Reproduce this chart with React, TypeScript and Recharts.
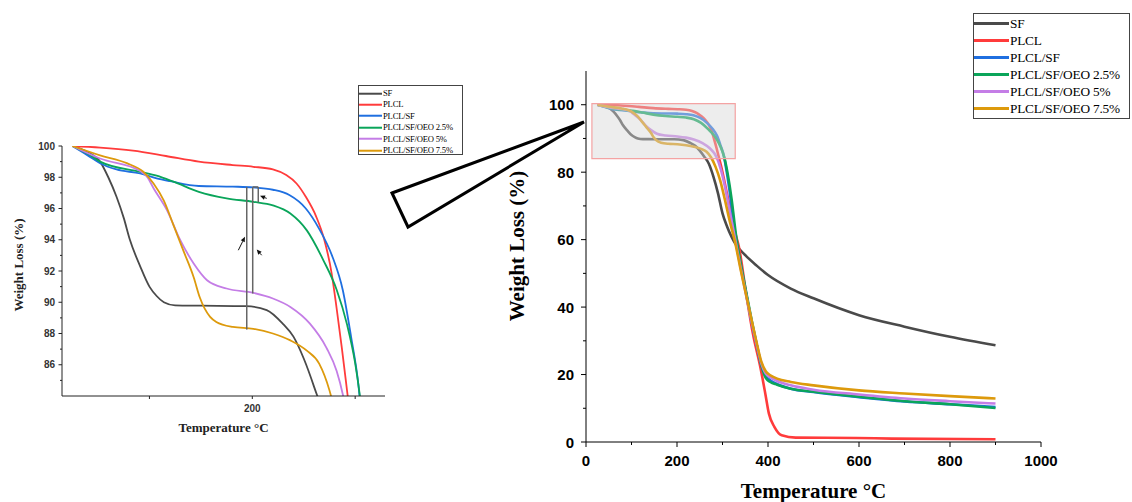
import React from 'react';
import { LineChart, Line, XAxis, YAxis, Legend, ReferenceArea, ReferenceLine } from 'recharts';

// ---- Data: [temperature °C, weight %] ----
const SF: [number, number][] = [
  [25, 100], [40, 99.6], [52, 99.0], [60, 98.0], [68, 96.75], [75, 95.4], [81, 94.0], [91, 92.3],
  [100, 91.0], [107, 90.4], [114, 90.0], [125, 89.8], [150, 89.78], [194, 89.75], [214, 89.5],
  [230, 88.6], [240, 87.8], [250, 86.4], [260, 84.6], [270, 82.5], [280, 78.7], [290, 73.8],
  [300, 67.8], [310, 63.9], [320, 60.8], [330, 58.4], [350, 55.4], [375, 52.3], [400, 49.5],
  [450, 45.5], [500, 42.6], [600, 37.6], [700, 34.2], [800, 31.2], [900, 28.7],
];
const PLCL: [number, number][] = [
  [25, 100], [52, 99.9], [84, 99.7], [116, 99.36], [148, 99.0], [181, 98.78], [201, 98.67],
  [220, 98.5], [233, 98.14], [243, 97.6], [252, 96.75], [262, 95.5], [270, 94.0], [277, 91.9],
  [282, 89.6], [287, 87.1], [292, 84.4], [300, 80], [310, 73.5], [320, 67], [328, 62],
  [336, 57.9], [352, 44], [367, 32], [383, 22.3], [394, 14.4], [402, 8.4], [414, 4.5],
  [430, 2.0], [461, 1.3], [594, 1.2], [672, 1.0], [900, 0.8],
];
const PLCL_SF: [number, number][] = [
  [25, 100], [40, 99.4], [52, 98.9], [68, 98.5], [91, 98.24], [107, 97.93], [120, 97.75],
  [148, 97.44], [181, 97.4], [201, 97.35], [220, 97.2], [236, 96.86], [252, 96.0], [265, 94.7],
  [278, 92.9], [288, 90.77], [296, 87.8], [303, 84.8], [310, 79.5], [318, 72], [328, 61],
  [340, 52], [352, 44], [365, 35], [375, 29], [385, 23], [395, 19.5], [405, 18.3], [420, 17.2],
  [450, 15.8], [500, 14.8], [600, 13.3], [700, 12.0], [800, 11.2], [900, 10.4],
];
const OEO_25: [number, number][] = [
  [25, 100], [40, 99.5], [52, 99.0], [91, 98.35], [107, 98.1], [124, 97.7], [148, 97.07],
  [175, 96.65], [201, 96.43], [220, 96.2], [237, 95.68], [253, 94.6], [269, 92.7], [282, 90.8],
  [292, 88.6], [300, 86.1], [304, 84.3], [312, 79], [320, 72], [330, 61], [340, 53], [352, 44.5],
  [365, 35.5], [375, 29], [385, 23], [395, 19], [405, 17.8], [420, 17.0], [450, 15.8],
  [500, 14.9], [600, 13.4], [700, 12.1], [800, 11.2], [900, 10.1],
];
const OEO_5: [number, number][] = [
  [25, 100], [52, 99.2], [91, 98.4], [98, 98.0], [104, 97.3], [117, 95.9], [130, 93.97],
  [143, 92.48], [156, 91.41], [175, 90.88], [201, 90.6], [220, 90.24], [237, 89.7], [256, 88.63],
  [272, 87.1], [282, 85.6], [288, 84.1], [296, 81], [305, 76], [315, 69], [328, 60], [340, 51.5],
  [352, 43.5], [365, 35], [375, 29], [385, 23.5], [395, 20.3], [405, 19.2], [420, 18.1],
  [450, 16.8], [500, 15.5], [600, 14.1], [700, 12.9], [800, 12.1], [900, 11.4],
];
const OEO_75: [number, number][] = [
  [25, 100], [52, 99.4], [78, 98.9], [94, 98.35], [104, 97.6], [114, 96.5], [123, 95.0],
  [133, 93.3], [143, 91.6], [149, 90.3], [159, 89.06], [165, 88.74], [181, 88.42], [201, 88.3],
  [220, 88.0], [237, 87.56], [253, 86.9], [265, 86.07], [275, 84.36], [285, 81.5], [295, 77.5],
  [305, 72], [315, 66], [328, 59], [340, 51], [352, 43.5], [365, 35.5], [375, 29.5], [385, 24],
  [395, 21], [405, 19.8], [420, 18.8], [450, 17.8], [500, 16.8], [600, 15.3], [700, 14.4],
  [800, 13.6], [900, 12.9],
];

const SERIES_NAMES = ['SF', 'PLCL', 'PLCL/SF', 'PLCL/SF/OEO 2.5%', 'PLCL/SF/OEO 5%', 'PLCL/SF/OEO 7.5%'];
const SERIES_DATA = [SF, PLCL, PLCL_SF, OEO_25, OEO_5, OEO_75];
const COLORS = ['#4a4a4a', '#ff3b3b', '#1f6fe0', '#0aa55a', '#c47de6', '#dd9a0c'];

const MAIN_X_TICKS = [0, 100, 200, 300, 400, 500, 600, 700, 800, 900, 1000];
const MAIN_Y_TICKS = [0, 10, 20, 30, 40, 50, 60, 70, 80, 90, 100];
const INSET_X_TICKS = [100, 200, 300];
const INSET_Y_TICKS = [85, 86, 87, 88, 89, 90, 91, 92, 93, 94, 95, 96, 97, 98, 99, 100];

// annotation segments in the inset (data units)
const INSET_VLINES: { x: number; y1: number; y2: number }[] = [
  { x: 194.6, y1: 97.38, y2: 88.25 },
  { x: 200.4, y1: 97.38, y2: 90.56 },
  { x: 205.8, y1: 97.38, y2: 96.4 },
];
const INSET_HLINE = { x1: 200.4, x2: 205.8, y: 97.38 };
const INSET_ARROWS: { from: [number, number]; to: [number, number] }[] = [
  { from: [186.4, 93.33], to: [192.9, 94.19] },
  { from: [209.1, 93.01], to: [204.3, 93.38] },
  { from: [214.0, 96.65], to: [207.5, 96.81] },
];

const rows = (pts: [number, number][]) => pts.map(([t, w]) => ({ t, w }));

const SANS = '"Liberation Sans", Arial, sans-serif';
const SERIF = '"Liberation Serif", "Times New Roman", serif';

const MainYTick = (props: any) => {
  const { x, y, payload } = props;
  const v = payload.value;
  const major = v % 20 === 0;
  return (
    <g>
      <line x1={x} x2={x - (major ? 5 : 3)} y1={y} y2={y} stroke="#000" strokeWidth={1} />
      {major && (
        <text x={x - 12} y={y} textAnchor="end" dominantBaseline="central" fontFamily={SANS} fontWeight="bold" fontSize={15} fill="#000">
          {v}
        </text>
      )}
    </g>
  );
};
const MainXTick = (props: any) => {
  const { x, y, payload } = props;
  const v = payload.value;
  const major = v % 200 === 0;
  return (
    <g>
      <line x1={x} x2={x} y1={y} y2={y + (major ? 5 : 3)} stroke="#000" strokeWidth={1} />
      {major && (
        <text x={x} y={y + 18.5} textAnchor="middle" dominantBaseline="central" fontFamily={SANS} fontWeight="bold" fontSize={15} fill="#000">
          {v}
        </text>
      )}
    </g>
  );
};
const InsetYTick = (props: any) => {
  const { x, y, payload } = props;
  const v = payload.value;
  const major = v % 2 === 0;
  return (
    <g>
      <line x1={x} x2={x - (major ? 3.5 : 2)} y1={y} y2={y} stroke="#222" strokeWidth={1} />
      {major && (
        <text x={x - 7} y={y} textAnchor="end" dominantBaseline="central" fontFamily={SANS} fontWeight="bold" fontSize={10} fill="#333">
          {v}
        </text>
      )}
    </g>
  );
};
const InsetXTick = (props: any) => {
  const { x, y, payload } = props;
  const v = payload.value;
  const labeled = v === 200;
  return (
    <g>
      <line x1={x} x2={x} y1={y} y2={y + 3} stroke="#222" strokeWidth={1} />
      {labeled && (
        <text x={x} y={y + 12.5} textAnchor="middle" dominantBaseline="central" fontFamily={SANS} fontWeight="bold" fontSize={10} fill="#333">
          {v}
        </text>
      )}
    </g>
  );
};

const makeLegend = (o: { width: number; height: number; rowH: number; padTop: number; swatch: number; sw: number; font: number }) =>
  (props: any) => {
    const payload = [...(props.payload || [])].sort(
      (a: any, b: any) => SERIES_NAMES.indexOf(a.value) - SERIES_NAMES.indexOf(b.value)
    );
    return (
      <div style={{ width: o.width, height: o.height, boxSizing: 'border-box', border: '1px solid #444', background: '#fff', paddingTop: o.padTop }}>
        {payload.map((p: any, i: number) => (
          <div key={i} style={{ display: 'flex', alignItems: 'center', height: o.rowH, whiteSpace: 'nowrap' }}>
            <svg width={o.swatch} height={o.rowH} style={{ display: 'block', flex: 'none' }}>
              <line x1={0} x2={o.swatch} y1={o.rowH / 2} y2={o.rowH / 2} stroke={p.color} strokeWidth={o.sw} />
            </svg>
            <span style={{ fontFamily: SERIF, fontSize: o.font, color: '#000', lineHeight: 1, marginLeft: 1, letterSpacing: -0.2 }}>{p.value}</span>
          </div>
        ))}
      </div>
    );
  };

const MainLegend = makeLegend({ width: 157, height: 106, rowH: 17.1, padTop: 1, swatch: 35, sw: 3, font: 13.3 });
const InsetLegend = makeLegend({ width: 105, height: 70, rowH: 11.45, padTop: 1.5, swatch: 23, sw: 2, font: 8.6 });

const Arrow = (props: any) => {
  const { x1, y1, x2, y2 } = props;
  if ([x1, y1, x2, y2].some((v) => typeof v !== 'number')) return null;
  const ang = Math.atan2(y2 - y1, x2 - x1);
  const L = 5, W = 2.2;
  const bx = x2 - L * Math.cos(ang), by = y2 - L * Math.sin(ang);
  const px = -Math.sin(ang) * W, py = Math.cos(ang) * W;
  return (
    <g>
      <line x1={x1} y1={y1} x2={bx} y2={by} stroke="#111" strokeWidth={1} />
      <polygon points={`${x2},${y2} ${bx + px},${by + py} ${bx - px},${by - py}`} fill="#111" />
    </g>
  );
};

export default function App() {
  return (
    <div style={{ position: 'absolute', left: 0, top: 0, width: 1132, height: 502, background: '#fff', overflow: 'hidden' }}>
      {/* Inset (zoomed) chart */}
      <div style={{ position: 'absolute', left: 0, top: 0 }}>
        <LineChart width={480} height={502} margin={{ top: 146, right: 95, bottom: 76, left: 2 }}>
          <XAxis
            type="number"
            dataKey="t"
            domain={[15, 329]}
            allowDataOverflow
            ticks={INSET_X_TICKS}
            interval={0}
            tickSize={0}
            tickMargin={0}
            tick={InsetXTick}
            axisLine={{ stroke: '#222' }}
            height={30}
            label={(p: any) => {
              const vb = p.viewBox || { x: 62, y: 396, width: 323, height: 30 };
              return (
                <text x={vb.x + vb.width / 2} y={vb.y + 31} textAnchor="middle" dominantBaseline="central" fontFamily={SERIF} fontWeight="bold" fontSize={13} fill="#222">
                  Temperature °C
                </text>
              );
            }}
          />
          <YAxis
            type="number"
            domain={[84, 100]}
            allowDataOverflow
            ticks={INSET_Y_TICKS}
            interval={0}
            tickSize={0}
            tickMargin={0}
            tick={InsetYTick}
            axisLine={{ stroke: '#222' }}
            width={60}
            label={(p: any) => {
              const vb = p.viewBox || { x: 2, y: 146, width: 60, height: 250 };
              const cx = vb.x + 16.3;
              const cy = vb.y + vb.height / 2 - 6;
              return (
                <text x={cx} y={cy} transform={`rotate(-90, ${cx}, ${cy})`} textAnchor="middle" dominantBaseline="central" fontFamily={SERIF} fontWeight="bold" fontSize={13} fill="#222">
                  Weight Loss (%)
                </text>
              );
            }}
          />
          {SERIES_DATA.map((d, i) => (
            <Line
              key={SERIES_NAMES[i]}
              data={rows(d)}
              dataKey="w"
              name={SERIES_NAMES[i]}
              type="monotone"
              stroke={COLORS[i]}
              strokeWidth={1.8}
              dot={false}
              activeDot={false}
              isAnimationActive={false}
            />
          ))}
          {INSET_VLINES.map((l, i) => (
            <ReferenceLine key={'v' + i} segment={[{ x: l.x, y: l.y1 }, { x: l.x, y: l.y2 }]} stroke="#666" strokeWidth={1.5} />
          ))}
          <ReferenceLine segment={[{ x: INSET_HLINE.x1, y: INSET_HLINE.y }, { x: INSET_HLINE.x2, y: INSET_HLINE.y }]} stroke="#666" strokeWidth={1.5} />
          {INSET_ARROWS.map((a, i) => (
            <ReferenceLine key={'a' + i} segment={[{ x: a.from[0], y: a.from[1] }, { x: a.to[0], y: a.to[1] }]} shape={Arrow} />
          ))}
          <Legend
            layout="horizontal"
            verticalAlign="middle"
            align="center"
            itemSorter={null as any}
            content={InsetLegend}
            wrapperStyle={{ position: 'absolute', left: 358, top: 85, right: 'auto', bottom: 'auto', width: 105, height: 70 }}
          />
        </LineChart>
      </div>

      {/* Main chart */}
      <div style={{ position: 'absolute', left: 486, top: 0 }}>
        <LineChart width={646} height={502} margin={{ top: 71, right: 91, bottom: 30, left: 40 }}>
          <XAxis
            type="number"
            dataKey="t"
            domain={[0, 1000]}
            ticks={MAIN_X_TICKS}
            interval={0}
            tickSize={0}
            tickMargin={0}
            tick={MainXTick}
            axisLine={{ stroke: '#000' }}
            height={30}
            label={(p: any) => {
              const vb = p.viewBox || { x: 100, y: 442, width: 455, height: 30 };
              return (
                <text x={vb.x + vb.width / 2} y={vb.y + 56} textAnchor="middle" fontFamily={SERIF} fontWeight="bold" fontSize={21} fill="#000">
                  Temperature °C
                </text>
              );
            }}
          />
          <YAxis
            type="number"
            domain={[0, 110]}
            ticks={MAIN_Y_TICKS}
            interval={0}
            tickSize={0}
            tickMargin={0}
            tick={MainYTick}
            axisLine={{ stroke: '#000' }}
            width={60}
            label={(p: any) => {
              const vb = p.viewBox || { x: 40, y: 71, width: 60, height: 371 };
              const cx = vb.x - 9;
              const cy = vb.y + vb.height / 2 - 10.5;
              return (
                <text x={cx} y={cy} transform={`rotate(-90, ${cx}, ${cy})`} textAnchor="middle" dominantBaseline="central" fontFamily={SERIF} fontWeight="bold" fontSize={21} fill="#000">
                  Weight Loss (%)
                </text>
              );
            }}
          />
          {SERIES_DATA.map((d, i) => (
            <Line
              key={SERIES_NAMES[i]}
              data={rows(d)}
              dataKey="w"
              name={SERIES_NAMES[i]}
              type="monotone"
              stroke={COLORS[i]}
              strokeWidth={2.6}
              dot={false}
              activeDot={false}
              isAnimationActive={false}
            />
          ))}
          <ReferenceArea x1={13} x2={328} y1={84} y2={100.3} fill="#d8d8d8" fillOpacity={0.45} stroke="#f4a3a3" strokeWidth={1.2} zIndex={450} />
          <Legend
            layout="horizontal"
            verticalAlign="middle"
            align="center"
            itemSorter={null as any}
            content={MainLegend}
            wrapperStyle={{ position: 'absolute', left: 487, top: 13, right: 'auto', bottom: 'auto', width: 157, height: 106 }}
          />
        </LineChart>
      </div>

      {/* Callout connecting the zoom box to the inset */}
      <svg width={1132} height={502} style={{ position: 'absolute', left: 0, top: 0, pointerEvents: 'none' }}>
        <polygon points="392,193 584,122 408,227" fill="none" stroke="#000" strokeWidth={3} strokeLinejoin="miter" />
      </svg>
    </div>
  );
}
